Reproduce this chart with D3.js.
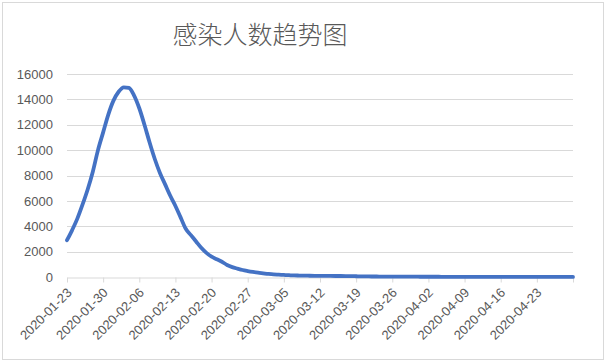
<!DOCTYPE html>
<meta charset="utf-8">
<style>
    body { margin: 0; background: #fff; }
    text { font-family: "Liberation Sans", sans-serif; fill: #595959; }
    .title { font-family: "Noto Sans CJK SC", sans-serif; font-size: 25px; font-weight: 300; }
    .grid line { stroke: #d9d9d9; }
    .axis text { font-size: 13px; }
</style>

<svg width="605" height="363"></svg>

<script src="https://cdn.jsdelivr.net/npm/d3@7"></script>
<script>

    // DATA
    var startDate = "2020-01-23";
    var yTicks = [0, 2000, 4000, 6000, 8000, 10000, 12000, 14000, 16000];
    // one value per day, 2020-01-23 .. 2020-04-30
    var infected = [
        2900, 3700, 4600, 5700, 6900, 8300, 10000, 11400, 12800, 13900,
        14600, 14950, 14900, 14300, 13300, 12000, 10600, 9300, 8200, 7300,
        6400, 5600, 4700, 3800, 3300, 2800, 2300, 1900, 1600, 1400,
        1200, 950, 780, 660, 550, 470, 400, 340, 290, 240,
        200, 180, 160, 140, 125, 115, 105, 100, 95, 90,
        85, 82, 80, 78, 75, 70, 60, 50, 45, 40,
        38, 35, 33, 30, 28, 26, 25, 24, 22, 20,
        20, 19, 18, 17, 16, 15, 15, 14, 14, 13,
        13, 12, 12, 11, 11, 10, 10, 10, 9, 9,
        9, 8, 8, 8, 7, 7, 7, 6, 6
    ];

    // SETUP
    var svg = d3.select("svg"),
        margin = { left: 67, right: 32, top: 74, bottom: 86 },
        width = 605 - margin.left - margin.right,
        height = 363 - margin.top - margin.bottom;

    var parse = d3.timeParse("%Y-%m-%d"),
        t0 = parse(startDate),
        data = infected.map(function (v, i) { return { date: d3.timeDay.offset(t0, i), v: v }; });

    var x = d3.scaleTime()
        .domain([t0, data[data.length - 1].date])
        .range([0, width]);
    var y = d3.scaleLinear().domain([0, 16000]).range([height, 0]);

    // chart border
    svg.append("rect")
        .attr("x", 2.5).attr("y", 2.5).attr("width", 601).attr("height", 357)
        .attr("fill", "none").attr("stroke", "#d9d9d9");

    svg.append("text")
        .attr("class", "title")
        .attr("x", 260).attr("y", 44)
        .attr("text-anchor", "middle")
        .text("感染人数趋势图");

    var g = svg.append("g")
        .attr("transform", "translate(" + margin.left + "," + margin.top + ")");

    // gridlines
    g.append("g").attr("class", "grid")
        .selectAll("line")
        .data(yTicks.slice(1))
        .enter().append("line")
        .attr("x1", 0).attr("x2", width)
        .attr("y1", function (d) { return Math.round(y(d)) + 0.5; })
        .attr("y2", function (d) { return Math.round(y(d)) + 0.5; });

    // y axis labels
    var yAxis = g.append("g").attr("class", "axis")
        .call(d3.axisLeft(y).tickValues(yTicks).tickSize(0).tickPadding(14).tickFormat(d3.format("d")));
    yAxis.select(".domain").remove();

    // x axis
    var xTicks = d3.timeDay.range(t0, d3.timeDay.offset(data[data.length - 1].date, 1), 7);
    var fmt = d3.timeFormat("%Y-%m-%d");
    var xAxis = g.append("g").attr("class", "axis")
        .attr("transform", "translate(0," + (Math.round(height) + 0.5) + ")")
        .call(d3.axisBottom(x).tickValues(xTicks).tickSize(5).tickSizeOuter(0)
            .tickFormat(function (d, i) { return i === xTicks.length - 1 ? "" : fmt(d); }));
    xAxis.select(".domain").attr("stroke", "#d9d9d9");
    xAxis.selectAll(".tick line").attr("stroke", "#d9d9d9");
    xAxis.selectAll(".tick text")
        .style("text-anchor", "end")
        .attr("dy", 0)
        .attr("y", 0)
        .attr("transform", "translate(5,16) rotate(-45)");

    // line
    g.append("path")
        .datum(data)
        .attr("fill", "none")
        .attr("stroke", "#4472c4")
        .attr("stroke-width", 3.8)
        .attr("stroke-linejoin", "round")
        .attr("stroke-linecap", "round")
        .attr("d", d3.line()
            .x(function (d) { return x(d.date); })
            .y(function (d) { return y(d.v); })
            .curve(d3.curveMonotoneX));

</script>
